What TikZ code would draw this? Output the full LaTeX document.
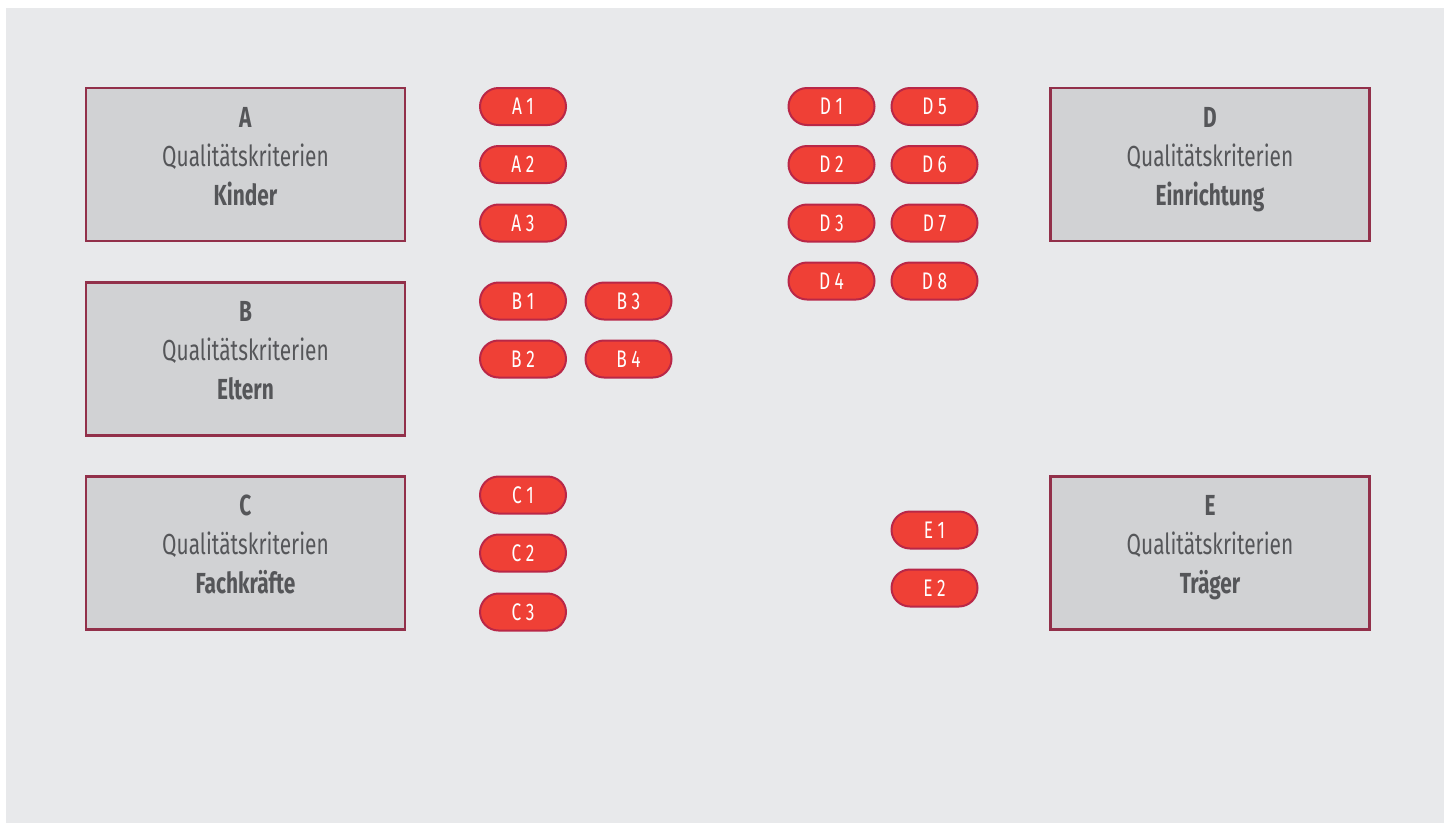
\documentclass[tikz,border=0pt]{standalone}
\usepackage{fontspec}
\setmainfont{Fira Sans}[FakeStretch=0.72]
\definecolor{bgc}{HTML}{E8E9EB}
\definecolor{boxfill}{HTML}{D1D2D4}
\definecolor{boxline}{HTML}{92304A}
\definecolor{pillfill}{HTML}{EF4036}
\definecolor{pillline}{HTML}{B92747}
\definecolor{txt}{HTML}{555659}
\begin{document}
\begin{tikzpicture}[x=1pt,y=-1pt,
  catbox/.style={draw=boxline,line width=2.5pt,fill=boxfill,minimum width=319pt,minimum height=153pt,inner sep=0pt},
  cattext/.style={align=center,text=txt,inner sep=0pt,font=\fontsize{29}{39}\selectfont},
  pill/.style={draw=pillline,line width=2pt,fill=pillfill,rounded corners=18.5pt,minimum width=86pt,minimum height=37pt,inner sep=0pt,text=white,font=\fontsize{24}{26}\selectfont},
]
\useasboundingbox (0,0) rectangle (1452,823);
\fill[bgc] (6,8) rectangle (1444,823);
\foreach \k/\x/\y/\w in {A/245.5/164.5/Kinder,B/245.5/359/Eltern,C/245.5/553/Fachkräfte,D/1210/164.5/Einrichtung,E/1210/553/Träger}{
  \node[catbox] (\k) at (\x,\y) {};
  \node[cattext] (\k t) at ([yshift=6pt]\k.center) {\strut\textbf{\k}\\Qualitätskriterien\\\textbf{\w}\strut};
}
\foreach \l/\n/\x/\y in {A/1/523/106.5,A/2/523/164.5,A/3/523/223,B/1/523/301,B/2/523/359,B/3/628.5/301,B/4/628.5/359,C/1/523/495,C/2/523/553,C/3/523/612,D/1/831.5/106.5,D/2/831.5/164.5,D/3/831.5/223,D/4/831.5/281,D/5/934.5/106.5,D/6/934.5/164.5,D/7/934.5/223,D/8/934.5/281,E/1/934.5/530,E/2/934.5/588}{
  \node[pill] (p\l\n) at (\x,\y) {\l\ \n};
}
\end{tikzpicture}
\end{document}
